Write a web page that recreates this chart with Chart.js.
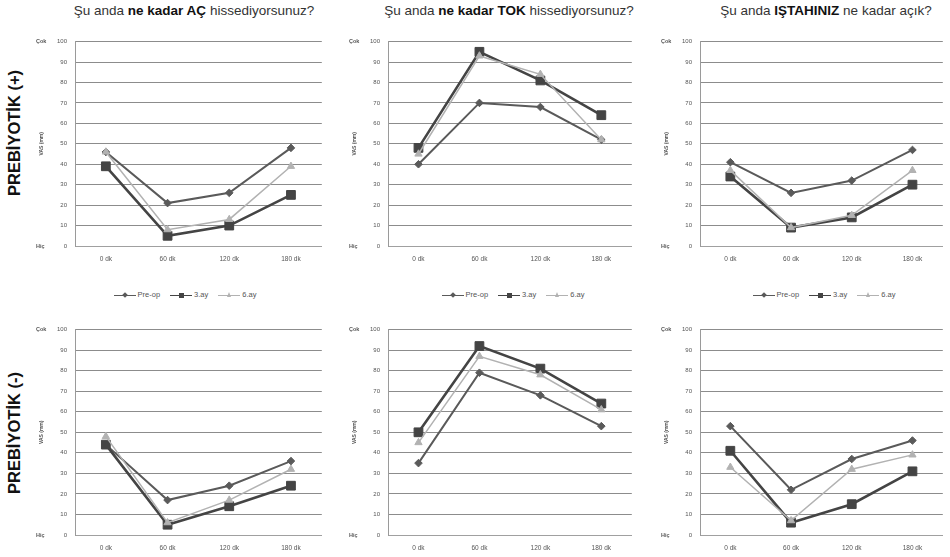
<!DOCTYPE html>
<html>
<head>
<meta charset="utf-8">
<script src="https://cdn.jsdelivr.net/npm/chart.js@4.4.1/dist/chart.umd.min.js"></script>
<style>
  body { margin: 0; background: #fff; font-family: "Liberation Sans", Arial, sans-serif; }
  #page { position: relative; width: 950px; height: 557px; overflow: hidden; }
  canvas { position: absolute; }
  .title { position: absolute; top: 3px; width: 340px; text-align: center; font-size: 13.5px; color: #333; white-space: nowrap; }
  .title b { color: #111; }
  .rowlab { position: absolute; width: 200px; height: 20px; line-height: 20px; text-align: center;
            font-size: 16.5px; font-weight: bold; color: #111; transform: rotate(-90deg); white-space: nowrap; }
  .legend { position: absolute; top: 290px; width: 220px; text-align: center; font-size: 7.5px; color: #555; white-space: nowrap; }
  .item { display: inline-block; margin: 0 5px; }
  .sw { position: relative; display: inline-block; width: 22px; height: 7px; vertical-align: middle; margin-right: 2px; }
  .ln { position: absolute; left: 0; right: 0; top: 3px; height: 1.5px; }
  .mk { position: absolute; }
</style>
</head>
<body>
<div id="page"></div>
<script>
// categories and series
const categories = ["0 dk", "60 dk", "120 dk", "180 dk"];
const seriesNames = ["Pre-op", "3.ay", "6.ay"];
const yTickStep = 10;

// PREBİYOTİK (+)
const acPlusPreop = [46, 21, 26, 48];
const acPlus3ay = [39, 5, 10, 25];
const acPlus6ay = [46, 8, 13, 39];
const tokPlusPreop = [40, 70, 68, 52];
const tokPlus3ay = [48, 95, 81, 64];
const tokPlus6ay = [45, 93, 84, 52];
const istahPlusPreop = [41, 26, 32, 47];
const istahPlus3ay = [34, 9, 14, 30];
const istahPlus6ay = [37, 9, 15, 37];

// PREBİYOTİK (-)
const acMinusPreop = [44, 17, 24, 36];
const acMinus3ay = [44, 5, 14, 24];
const acMinus6ay = [48, 6, 17, 32];
const tokMinusPreop = [35, 79, 68, 53];
const tokMinus3ay = [50, 92, 81, 64];
const tokMinus6ay = [45, 87, 78, 61];
const istahMinusPreop = [53, 22, 37, 46];
const istahMinus3ay = [41, 6, 15, 31];
const istahMinus6ay = [33, 7, 32, 39];

const titles = [
    'Şu anda <b>ne kadar AÇ</b> hissediyorsunuz?',
    'Şu anda <b>ne kadar TOK</b> hissediyorsunuz?',
    'Şu anda <b>IŞTAHINIZ</b> ne kadar açık?'
];

const styles = [
    { color: "#5a5a5a", point: "rectRot", radius: 3.8, width: 2, order: 2 },
    { color: "#444444", point: "rect", radius: 6.2, width: 2.6, order: 1 },
    { color: "#b2b2b2", point: "triangle", radius: 4.2, width: 1.5, order: 0 }
];

// plot areas: left, top, right, bottom
const panels = [
    { area: [75, 40, 327, 246], data: [acPlusPreop, acPlus3ay, acPlus6ay] },
    { area: [388, 40, 637, 246], data: [tokPlusPreop, tokPlus3ay, tokPlus6ay] },
    { area: [700, 40, 948, 246], data: [istahPlusPreop, istahPlus3ay, istahPlus6ay] },
    { area: [75, 328, 327, 535], data: [acMinusPreop, acMinus3ay, acMinus6ay] },
    { area: [388, 328, 637, 535], data: [tokMinusPreop, tokMinus3ay, tokMinus6ay] },
    { area: [700, 328, 948, 535], data: [istahMinusPreop, istahMinus3ay, istahMinus6ay] }
];

const page = document.getElementById("page");

// Çok / Hiç next to the 100 and 0 ticks
const endLabels = {
    id: "endLabels",
    afterDraw(chart) {
        const ctx = chart.ctx, y = chart.scales.y;
        ctx.save();
        ctx.font = "bold 5.5px 'Liberation Sans', Arial";
        ctx.fillStyle = "#555";
        ctx.textAlign = "left";
        ctx.textBaseline = "middle";
        ctx.fillText("Çok", chart.chartArea.left - 39, y.getPixelForValue(100));
        ctx.fillText("Hiç", chart.chartArea.left - 39, y.getPixelForValue(0));
        ctx.restore();
    }
};

panels.forEach(function (p, i) {
    const [l, t, r, b] = p.area;
    const padRight = 2;
    const canvas = document.createElement("canvas");
    const cl = l - 45, ct = t - 10;
    canvas.width = r - cl + padRight;
    canvas.height = b - ct + 20;
    canvas.style.left = cl + "px";
    canvas.style.top = ct + "px";
    page.appendChild(canvas);

    new Chart(canvas.getContext("2d"), {
        type: "line",
        data: {
            labels: categories,
            datasets: p.data.map(function (vals, k) {
                const s = styles[k];
                return {
                    label: seriesNames[k],
                    data: vals,
                    borderColor: s.color,
                    backgroundColor: s.color,
                    borderWidth: s.width,
                    pointStyle: s.point,
                    pointRadius: s.radius,
                    pointBorderWidth: 1,
                    tension: 0,
                    order: s.order
                };
            })
        },
        options: {
            responsive: false,
            animation: false,
            layout: { padding: { top: 10, right: padRight, left: 0, bottom: 0 } },
            plugins: { legend: { display: false }, tooltip: { enabled: false } },
            scales: {
                x: {
                    offset: true,
                    grid: { display: false, drawTicks: false },
                    border: { color: "#a0a0a0" },
                    ticks: { font: { size: 6.5 }, color: "#555", padding: 9, maxRotation: 0 },
                    afterFit: function (s) { s.height = 20; }
                },
                y: {
                    min: 0,
                    max: 100,
                    ticks: { stepSize: yTickStep, font: { size: 6 }, color: "#555", padding: 8 },
                    grid: { color: "#8c8c8c", drawTicks: false },
                    border: { color: "#9a9a9a" },
                    title: { display: true, text: "VAS (mm)", font: { size: 5, weight: "bold" }, color: "#555", padding: { top: 9, bottom: 0 } },
                    afterFit: function (s) { s.width = 45; }
                }
            }
        },
        plugins: [endLabels]
    });
});

// titles
[194, 509, 826].forEach(function (cx, i) {
    const d = document.createElement("div");
    d.className = "title";
    d.style.left = (cx - 170) + "px";
    d.innerHTML = titles[i];
    page.appendChild(d);
});

// row labels
[["PREBİYOTİK (+)", 133], ["PREBİYOTİK (-)", 433]].forEach(function (rl) {
    const d = document.createElement("div");
    d.className = "rowlab";
    d.textContent = rl[0];
    d.style.left = (14 - 100) + "px";
    d.style.top = (rl[1] - 10) + "px";
    page.appendChild(d);
});

// legends under the top row
function marker(k) {
    const s = styles[k];
    if (k === 0) return '<i class="mk" style="left:9px;top:1.5px;width:4px;height:4px;background:' + s.color + ';transform:rotate(45deg)"></i>';
    if (k === 1) return '<i class="mk" style="left:8.5px;top:1px;width:5px;height:5px;background:' + s.color + '"></i>';
    return '<i class="mk" style="left:8.5px;top:0.5px;width:0;height:0;border-left:2.5px solid transparent;border-right:2.5px solid transparent;border-bottom:5px solid ' + s.color + '"></i>';
}
[185, 513, 824].forEach(function (cx) {
    const d = document.createElement("div");
    d.className = "legend";
    d.style.left = (cx - 110) + "px";
    d.innerHTML = seriesNames.map(function (n, k) {
        return '<span class="item"><span class="sw"><i class="ln" style="background:' + styles[k].color + '"></i>' + marker(k) + '</span>' + n + '</span>';
    }).join("");
    page.appendChild(d);
});
</script>
</body>
</html>
